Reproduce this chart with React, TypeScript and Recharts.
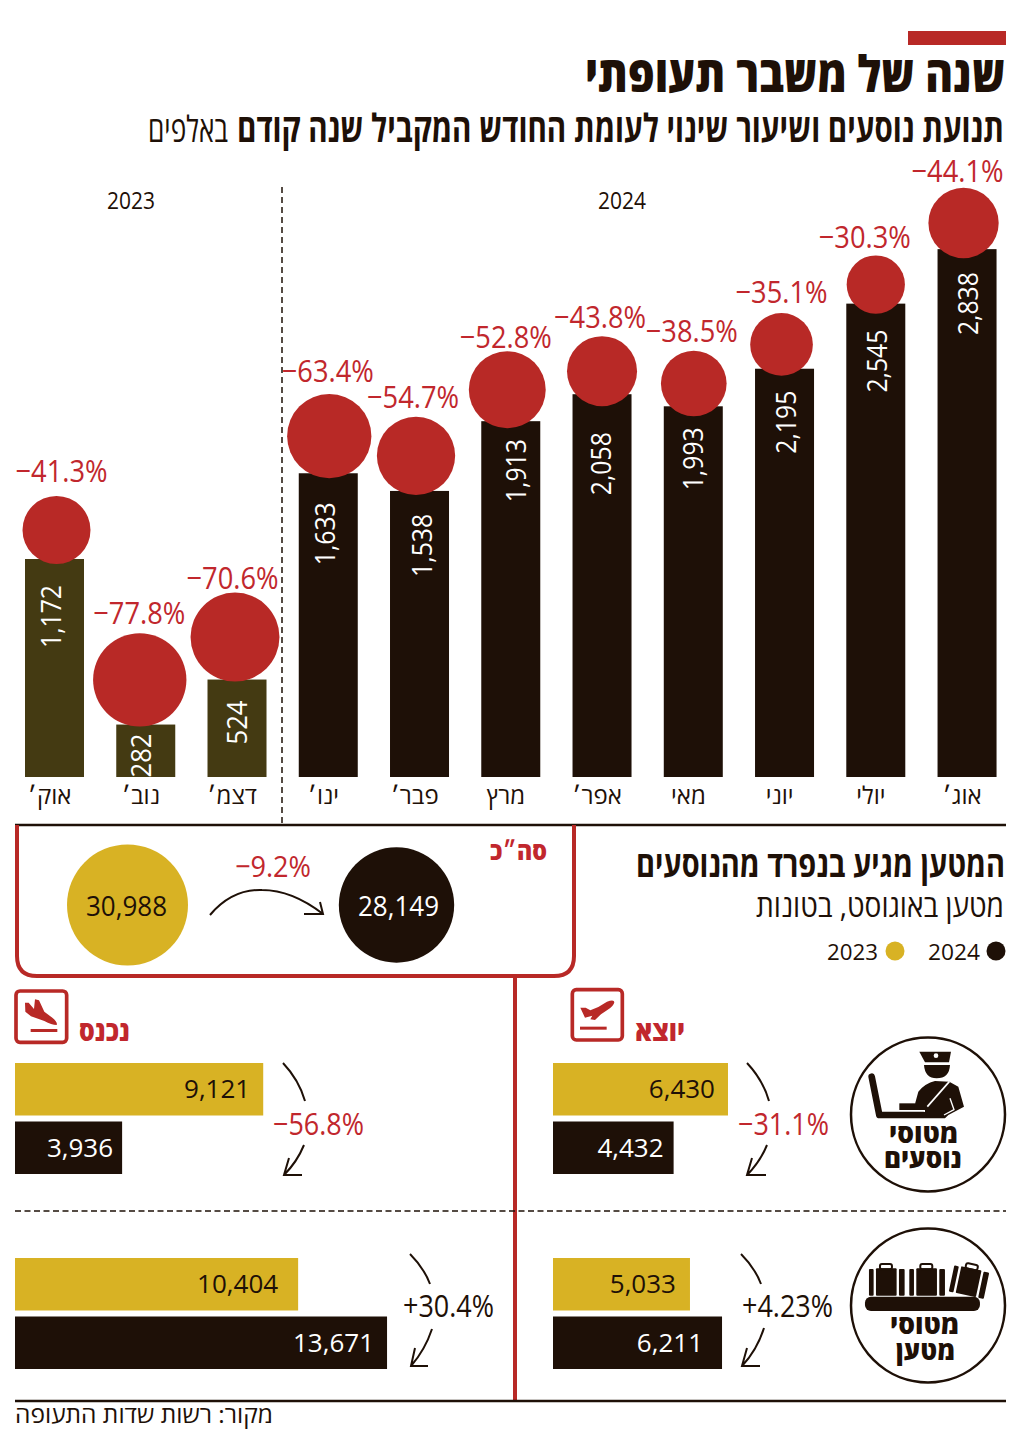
import {
  Bar,
  BarChart,
  Cell,
  ComposedChart,
  LabelList,
  Scatter,
  ScatterChart,
  XAxis,
  YAxis,
  ZAxis,
} from 'recharts';

const INK = '#1e1007';
const OLIVE = '#443a12';
const RED = '#b82926';
const RED_TEXT = '#c1272d';
const GOLD = '#d8b224';
const FONT = '"Open Sans", "Liberation Sans", sans-serif';

const months = ['אוק׳', 'נוב׳', 'דצמ׳', 'ינו׳', 'פבר׳', 'מרץ', 'אפר׳', 'מאי', 'יוני', 'יולי', 'אוג׳'];
const years = [2023, 2023, 2023, 2024, 2024, 2024, 2024, 2024, 2024, 2024, 2024];
const passengers = [1172, 282, 524, 1633, 1538, 1913, 2058, 1993, 2195, 2545, 2838];
const changes = [41.3, 77.8, 70.6, 63.4, 54.7, 52.8, 43.8, 38.5, 35.1, 30.3, 44.1];

const totalYears = ['2023', '2024'];
const totals = [30988, 28149];

const cargoYears = ['2023', '2024'];
const passengerOut = [6430, 4432];
const passengerIn = [9121, 3936];
const freightOut = [5033, 6211];
const freightIn = [10404, 13671];

// hand placement of the annotations around each bar, in px
const circleDx = [2, -6, -2, 1, -3.5, -3.5, 0, 0.5, -3, 0, -3.5];
const circleSink = [5, 2, 2, 5, 4, 7, 12, 10, 7, 10, 9];
const pctDx = [7, -6.5, -4.5, -0.5, -6.5, -5, -2, -1.5, -3, -11, -9.5];
const pctGap = [14, 9, 4, 12, 9, 3, 8, 9, 10, 7, 6];
const valueGap = [26, 9, 21, 29, 23, 18, 38, 21, 22, 26, 23];
const valueDx = [7, 5.5, 9.5, 6.5, 12.5, 15, 9, 10, 11, 11, 11];

const monthRows = months.map((month, i) => ({
  month,
  year: years[i],
  passengers: passengers[i],
  change: changes[i],
}));

const totalRows = totalYears.map((year, i) => ({ year, total: totals[i], row: 1 }));

const cargoRows = (values: number[]) =>
  cargoYears.map((year, i) => ({ year, value: values[i] }));

function Txt({ x, y, size, w, anchor = 'end', fill = INK, weight = 400, children }: any) {
  return (
    <text
      x={x}
      y={y}
      fontSize={size}
      fontWeight={weight}
      fontFamily={FONT}
      fill={fill}
      textAnchor={anchor}
      textLength={w}
      lengthAdjust={w ? 'spacingAndGlyphs' : undefined}
    >
      {children}
    </text>
  );
}

function MonthMark(props: any) {
  const { x, y, width, height, index, payload } = props;
  const r = Math.sqrt(28 * payload.change);
  const cx = x + width / 2 + circleDx[index];
  const cy = y - r + circleSink[index];
  const midX = x + width / 2;
  const label = payload.passengers.toLocaleString('en-US');
  return (
    <g>
      <rect x={x} y={y} width={width} height={height} fill={payload.year === 2023 ? OLIVE : INK} />
      <circle cx={cx} cy={cy} r={r} fill={RED} />
      <text
        transform={`translate(${midX + valueDx[index]} ${y + valueGap[index]}) rotate(-90)`}
        textAnchor="end"
        fontSize={28}
        fontFamily={FONT}
        fill="#fff"
        textLength={label.length > 3 ? 63 : 44}
        lengthAdjust="spacingAndGlyphs"
      >
        {label}
      </text>
      <Txt
        x={midX + pctDx[index]}
        y={cy - r - pctGap[index]}
        size={31}
        w={92}
        anchor="middle"
        weight={500}
        fill={RED_TEXT}
      >
        {`−${payload.change}%`}
      </Txt>
    </g>
  );
}

function MonthTick({ x, y, payload }: any) {
  return (
    <text x={x - 5} y={y + 19} textAnchor="middle" fontSize={24} fontFamily={FONT} fill={INK}>
      {payload.value}
    </text>
  );
}

function TotalCircle(props: any) {
  const { cx, cy, width, payload } = props;
  const dark = payload.year === '2024';
  return (
    <g>
      <circle cx={cx} cy={cy} r={width / 2} fill={dark ? INK : GOLD} />
      <text
        x={cx + (dark ? 2 : -1)}
        y={cy + 11}
        textAnchor="middle"
        fontSize={27}
        fontFamily={FONT}
        fill={dark ? '#fff' : INK}
        textLength={81}
        lengthAdjust="spacingAndGlyphs"
      >
        {payload.total.toLocaleString('en-US')}
      </text>
    </g>
  );
}

function CargoBars({ values, left, top, insets }: { values: number[]; left: number; top: number; insets: number[] }) {
  return (
    <div style={{ position: 'absolute', left, top }}>
      <BarChart
        layout="vertical"
        width={381}
        height={117}
        data={cargoRows(values)}
        margin={{ top: 0, right: 0, bottom: 0, left: 0 }}
      >
        <XAxis type="number" domain={[0, 14000]} hide />
        <YAxis type="category" dataKey="year" hide />
        <Bar dataKey="value" barSize={52.5} isAnimationActive={false}>
          {cargoYears.map((year) => (
            <Cell key={year} fill={year === '2023' ? GOLD : INK} />
          ))}
          <LabelList
            dataKey="value"
            content={(p: any) => (
              <text
                x={p.x + p.width - insets[p.index]}
                y={p.y + p.height / 2 + 9}
                textAnchor="end"
                fontSize={26}
                fontFamily={FONT}
                fill={p.index === 0 ? INK : '#fff'}
              >
                {Number(p.value).toLocaleString('en-US')}
              </text>
            )}
          />
        </Bar>
      </BarChart>
    </div>
  );
}

function SplitArrow({ d }: { d: string }) {
  return <path d={d} fill="none" stroke={INK} strokeWidth={2} />;
}

function Overlay() {
  return (
    <svg width={1024} height={1438} style={{ position: 'absolute', left: 0, top: 0 }}>
      <rect x={908} y={31} width={98} height={14} fill={RED} />
      <Txt x={1005} y={92} size={50} w={420} weight={800}>שנה של משבר תעופתי</Txt>
      <Txt x={1004} y={142} size={39} w={767} weight={700}>
        תנועת נוסעים ושיעור שינוי לעומת החודש המקביל שנה קודם
      </Txt>
      <Txt x={228} y={142} size={36} w={80}>באלפים</Txt>

      <Txt x={131} y={209} size={24} w={48} anchor="middle">2023</Txt>
      <Txt x={622} y={209} size={24} w={48} anchor="middle">2024</Txt>
      <line x1={282} y1={187} x2={282} y2={824} stroke={INK} strokeWidth={1.5} strokeDasharray="6 4" />

      <line x1={15} y1={825} x2={1006} y2={825} stroke={INK} strokeWidth={2.5} />
      <path d="M17 825 V956 Q17 976 37 976 H554 Q574 976 574 956 V825" fill="none" stroke={RED} strokeWidth={4} />
      <line x1={515} y1={976} x2={515} y2={1401} stroke={RED} strokeWidth={4} />

      <Txt x={547} y={860} size={25} w={57} weight={800} fill={RED_TEXT}>סה״כ</Txt>
      <Txt x={311} y={877} size={30} w={76} weight={500} fill={RED_TEXT}>−9.2%</Txt>
      <SplitArrow d="M210 915 Q232 889 262 890 Q292 890 323 914 M304 914 H323 L320 902" />

      <Txt x={1005} y={877} size={36} w={369} weight={700}>המטען מגיע בנפרד מהנוסעים</Txt>
      <Txt x={1004} y={917} size={31} w={248}>מטען באוגוסט,  בטונות</Txt>
      <circle cx={996} cy={951} r={9.5} fill={INK} />
      <Txt x={980} y={960} size={22} w={52}>2024</Txt>
      <circle cx={895} cy={951} r={9.5} fill={GOLD} />
      <Txt x={878} y={960} size={22} w={51}>2023</Txt>

      <g transform="translate(565 985) scale(0.3333)">
        <rect x={22} y={14} width={150} height={151} rx={12} fill="none" stroke={RED} strokeWidth={11} />
        <path d="M46 68 L62 68 L76 76 L100 66 L126 50 Q148 42 148 52 Q146 64 126 76 L108 88 L90 105 L76 103 L82 92 L60 98 Z" fill={RED} />
        <rect x={45} y={125} width={80} height={9} fill={RED} />
      </g>
      <Txt x={685} y={1041} size={28} w={50} weight={800} fill={RED_TEXT}>יוצא</Txt>

      <g transform="translate(10 985) scale(0.3333)">
        <rect x={18} y={18} width={152} height={154} rx={12} fill="none" stroke={RED} strokeWidth={11} />
        <path d="M45 53 L56 53 L72 72 L75 43 L87 46 L103 80 L127 98 Q144 112 140 120 Q125 120 103 108 L63 94 L46 80 Z" fill={RED} />
        <rect x={62} y={132} width={80} height={9} fill={RED} />
      </g>
      <Txt x={130} y={1041} size={28} w={51} weight={800} fill={RED_TEXT}>נכנס</Txt>

      <SplitArrow d="M747 1063 Q763 1080 769 1101 M767 1145 Q760 1162 747 1175 M766 1175 H747 L752 1158" />
      <Txt x={829} y={1135} size={31} w={91} weight={500} fill={RED_TEXT}>−31.1%</Txt>
      <SplitArrow d="M283 1063 Q299 1080 305 1101 M304 1145 Q297 1162 284 1175 M302 1175 H284 L289 1158" />
      <Txt x={364} y={1135} size={31} w={91} weight={500} fill={RED_TEXT}>−56.8%</Txt>
      <SplitArrow d="M741 1254 Q755 1268 761 1284 M764 1328 Q757 1350 742 1366 M760 1366 H742 L747 1348" />
      <Txt x={833} y={1317} size={31} w={91} weight={500}>+4.23%</Txt>
      <SplitArrow d="M410 1254 Q424 1268 430 1284 M432 1329 Q425 1350 411 1366 M428 1366 H411 L415 1348" />
      <Txt x={494} y={1317} size={31} w={91} weight={500}>+30.4%</Txt>

      <line x1={15} y1={1211} x2={1006} y2={1211} stroke={INK} strokeWidth={1.5} strokeDasharray="6 3.5" />
      <line x1={15} y1={1401} x2={1006} y2={1401} stroke={INK} strokeWidth={2.5} />
      <Txt x={273} y={1423} size={24} w={258}>מקור:  רשות שדות התעופה</Txt>

      <circle cx={928} cy={1114.5} r={77} fill="none" stroke={INK} strokeWidth={2.5} />
      <g transform="translate(850 1035) scale(0.3333)" fill={INK}>
        <path d="M208 50 H303 L297 82 H225 Z" />
        <circle cx={258} cy={62} r={7} fill="#fff" />
        <path d="M222 90 H300 Q298 130 260 130 Q225 130 222 90 Z" />
        <path d="M190 225 L205 170 Q225 145 255 138 L298 140 L325 155 L342 215 L295 240 L285 250 H225 V225 Z" />
        <rect x={148} y={205} width={47} height={20} />
        <path d="M298 140 L232 215" stroke="#fff" strokeWidth={5} fill="none" />
        <path d="M282 240 L312 224 L300 190" stroke="#fff" strokeWidth={4} fill="none" />
        <path d="M65 125 L88 240 H220" stroke={INK} strokeWidth={20} strokeLinecap="round" strokeLinejoin="round" fill="none" />
      </g>
      <Txt x={923.5} y={1143} size={26} w={69} weight={800} anchor="middle">מטוסי</Txt>
      <Txt x={923} y={1168} size={26} w={78} weight={800} anchor="middle">נוסעים</Txt>

      <circle cx={928} cy={1305.5} r={77} fill="none" stroke={INK} strokeWidth={2.5} />
      <g transform="translate(530 1030) scale(0.3333)" fill={INK}>
        <rect x={1005} y={800} width={345} height={43} rx={18} />
        {[1017, 1138].map((x0) => (
          <g key={x0}>
            <rect x={x0} y={717} width={14} height={80} rx={3} />
            <rect x={x0 + 21} y={715} width={62} height={82} rx={3} />
            <rect x={x0 + 90} y={717} width={17} height={80} rx={3} />
            <rect x={x0 + 33} y={702} width={36} height={16} rx={6} fill="none" stroke={INK} strokeWidth={6} />
          </g>
        ))}
        <g transform="rotate(12 1320 755)">
          <rect x={1264} y={717} width={14} height={80} rx={3} />
          <rect x={1285} y={715} width={62} height={82} rx={3} />
          <rect x={1354} y={717} width={17} height={80} rx={3} />
          <rect x={1298} y={702} width={36} height={16} rx={6} fill="none" stroke={INK} strokeWidth={6} />
        </g>
      </g>
      <Txt x={924.5} y={1334} size={26} w={69} weight={800} anchor="middle">מטוסי</Txt>
      <Txt x={925.5} y={1360} size={26} w={59} weight={800} anchor="middle">מטען</Txt>
    </svg>
  );
}

export default function App() {
  return (
    <div style={{ position: 'absolute', left: 0, top: 0, width: 1024, height: 1438, overflow: 'hidden', background: '#fff' }}>
      <Overlay />

      <div style={{ position: 'absolute', left: 9.35, top: 130 }}>
        <ComposedChart
          width={1003.8}
          height={690}
          data={monthRows}
          margin={{ top: 14.6, right: 0, bottom: 0, left: 0 }}
        >
          <XAxis dataKey="month" axisLine={false} tickLine={false} interval={0} tick={<MonthTick />} height={43} />
          <YAxis hide domain={[0, 3400]} />
          <Bar dataKey="passengers" barSize={59} shape={<MonthMark />} isAnimationActive={false} />
        </ComposedChart>
      </div>

      <div style={{ position: 'absolute', left: -7.5, top: 835 }}>
        <ScatterChart width={538} height={140} margin={{ top: 0, right: 0, bottom: 0, left: 0 }}>
          <XAxis type="category" dataKey="year" scale="band" hide allowDuplicatedCategory={false} />
          <YAxis type="number" dataKey="row" domain={[0, 2]} hide />
          <ZAxis type="number" dataKey="total" domain={[0, 30988]} range={[0, 11499]} />
          <Scatter data={totalRows} shape={<TotalCircle />} isAnimationActive={false} />
        </ScatterChart>
      </div>

      <CargoBars values={passengerOut} left={553} top={1059.7} insets={[13, 10]} />
      <CargoBars values={passengerIn} left={15} top={1059.7} insets={[13, 9]} />
      <CargoBars values={freightOut} left={553} top={1254.8} insets={[14, 19]} />
      <CargoBars values={freightIn} left={15} top={1254.8} insets={[20, 13]} />
    </div>
  );
}
